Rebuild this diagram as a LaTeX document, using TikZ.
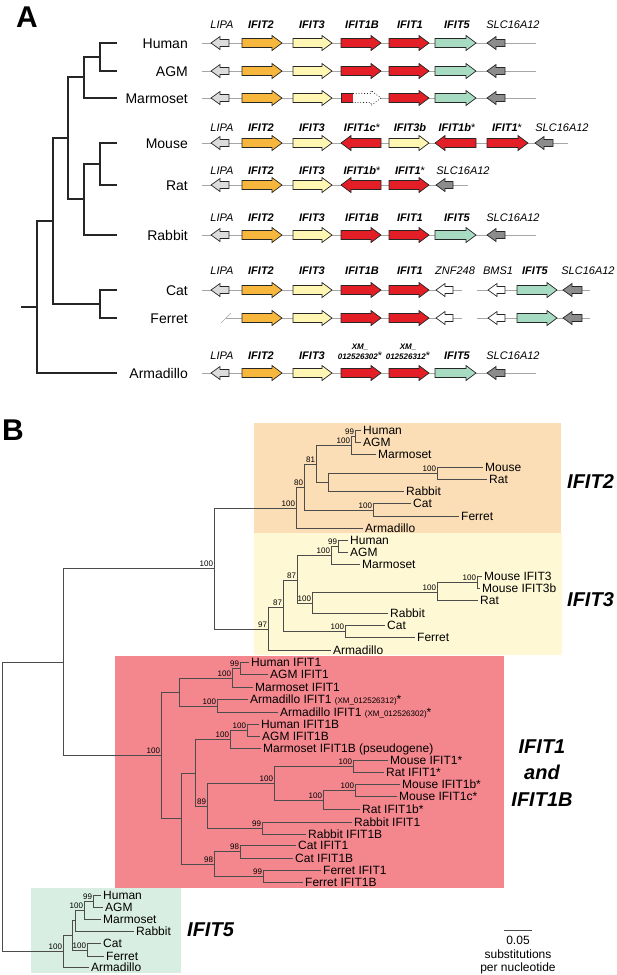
\documentclass[tikz,border=0pt]{standalone}
\usepackage{fontspec}
\setmainfont{Liberation Sans}
\definecolor{lipagray}{HTML}{DCDCDC}
\definecolor{slcgray}{HTML}{8C8C8C}
\definecolor{ifittwo}{HTML}{F7B63C}
\definecolor{ifitthree}{HTML}{FFF6B4}
\definecolor{ifitone}{HTML}{E31E26}
\definecolor{ifitfive}{HTML}{A8DCC2}
\definecolor{boxtwo}{HTML}{FBDDB6}
\definecolor{boxthree}{HTML}{FEF8D4}
\definecolor{boxone}{HTML}{F4878E}
\definecolor{boxfive}{HTML}{D9EEE2}
% gene arrows: style, tail x, tip x, row y
\newcommand{\generight}[4]{\draw[#1] (#2,#4-4.5) -- (#3-10,#4-4.5) -- (#3-10,#4-7.5) -- (#3,#4) -- (#3-10,#4+7.5) -- (#3-10,#4+4.5) -- (#2,#4+4.5) -- cycle;}
% style, tip x, tail x, row y
\newcommand{\geneleft}[4]{\draw[#1] (#3,#4-4.5) -- (#2+10,#4-4.5) -- (#2+10,#4-7.5) -- (#2,#4) -- (#2+10,#4+7.5) -- (#2+10,#4+4.5) -- (#3,#4+4.5) -- cycle;}
\newcommand{\genesmall}[4]{\draw[#1] (#3,#4-3.5) -- (#2+9,#4-3.5) -- (#2+9,#4-6.5) -- (#2,#4) -- (#2+9,#4+6.5) -- (#2+9,#4+3.5) -- (#3,#4+3.5) -- cycle;}
\begin{document}
\begin{tikzpicture}[x=1pt,y=-1pt,
  panel/.style={inner sep=0pt,font=\fontsize{30}{30}\selectfont\bfseries},
  species/.style={anchor=east,inner sep=0pt,text height=10pt,text depth=0pt,font=\fontsize{14}{14}\selectfont},
  atree/.style={draw=black!85,line width=1.1pt},
  backbone/.style={draw=black!35,line width=1pt},
  gname/.style={inner sep=0pt,text height=8pt,text depth=0pt,font=\fontsize{11}{11}\selectfont\itshape},
  gbold/.style={gname,font=\fontsize{11}{11}\selectfont\bfseries\itshape},
  gene/.style={draw=black!85,line width=0.7pt},
  lipa/.style={gene,fill=lipagray},
  slc/.style={gene,fill=slcgray},
  other/.style={gene,fill=white},
  ifit2/.style={gene,fill=ifittwo},
  ifit3/.style={gene,fill=ifitthree},
  ifit1/.style={gene,fill=ifitone},
  ifit5/.style={gene,fill=ifitfive},
  pseudo/.style={draw=black!85,line width=0.8pt,dotted,fill=white},
  btree/.style={draw=black!70,line width=0.7pt},
  leaf/.style={anchor=west,inner ysep=0pt,inner xsep=2pt,text height=8.6pt,text depth=0pt,font=\fontsize{12}{12}\selectfont},
  boot/.style={anchor=south east,inner sep=0.8pt,font=\fontsize{8}{8}\selectfont},
  clade/.style={inner sep=0pt,font=\fontsize{20}{26.5}\selectfont\bfseries\itshape},
  scaletext/.style={inner sep=0pt,font=\fontsize{12}{12}\selectfont}]
\useasboundingbox (0,0) rectangle (617,975);

%%% panel A
\node[panel] (labA) at (27,17) {A};

% species tree
\node[species] (sHuman) at (188,43) {Human};
\node[species] (sAGM) at (188,71) {AGM};
\node[species] (sMarmoset) at (188,98) {Marmoset};
\node[species] (sMouse) at (188,143) {Mouse};
\node[species] (sRat) at (188,185) {Rat};
\node[species] (sRabbit) at (188,235) {Rabbit};
\node[species] (sCat) at (188,290) {Cat};
\node[species] (sFerret) at (188,318) {Ferret};
\node[species] (sArmadillo) at (188,373) {Armadillo};
\coordinate (tHuman) at (117,43);
\coordinate (tAGM) at (117,71);
\coordinate (tMarmoset) at (117,98);
\coordinate (tMouse) at (117,143);
\coordinate (tRat) at (117,185);
\coordinate (tRabbit) at (117,235);
\coordinate (tCat) at (117,290);
\coordinate (tFerret) at (117,318);
\coordinate (tArmadillo) at (117,373);
\coordinate (aHA) at (100,57);
\coordinate (aPri) at (84,77);
\coordinate (aMR) at (100,164);
\coordinate (aGli) at (84,199);
\coordinate (aEua) at (68,138);
\coordinate (aCF) at (100,304);
\coordinate (aBor) at (53,221);
\coordinate (aRoot) at (37,307);
\coordinate (aStub) at (21,307);
\draw[atree]
  (aHA) |- (tHuman)
  (aHA) |- (tAGM)
  (aPri) |- (aHA)
  (aPri) |- (tMarmoset)
  (aMR) |- (tMouse)
  (aMR) |- (tRat)
  (aGli) |- (aMR)
  (aGli) |- (tRabbit)
  (aEua) |- (aPri)
  (aEua) |- (aGli)
  (aCF) |- (tCat)
  (aCF) |- (tFerret)
  (aBor) |- (aEua)
  (aBor) |- (aCF)
  (aRoot) |- (aBor)
  (aRoot) |- (tArmadillo)
  (aStub) -- (aRoot);

% backbones
\foreach \ry in {43,71,98,235,373}
  \draw[backbone] (202,\ry) -- (536,\ry);
\draw[backbone] (202,143) -- (568,143);
\draw[backbone] (202,185) -- (468,185);
\draw[backbone] (202,290) -- (462,290);
\draw[backbone] (477,290) -- (590,290);
\draw[backbone] (226,318) -- (462,318);
\draw[backbone] (477,318) -- (590,318);
\draw[backbone,line width=0.6pt] (221,323) -- (231,313);

% common start of the rows
\foreach \ry in {43,71,98,143,185,235,290,373} {
  \genesmall{lipa}{211}{229}{\ry}
}
\foreach \ry in {43,71,98,143,185,235,290,318,373} {
  \generight{ifit2}{242}{282}{\ry}
  \generight{ifit3}{293}{332}{\ry}
}
% Human, AGM, Rabbit, Armadillo
\foreach \ry in {43,71,235,373} {
  \generight{ifit1}{341}{381}{\ry}
  \generight{ifit1}{389}{429}{\ry}
  \generight{ifit5}{435}{476}{\ry}
  \genesmall{slc}{487}{505}{\ry}
}
% Marmoset
\draw[ifit1] (341,93.5) rectangle (353,102.5);
\draw[pseudo] (353,93.5) -- (371,93.5) -- (371,90.5) -- (381,98) -- (371,105.5) -- (371,102.5) -- (353,102.5);
\generight{ifit1}{389}{429}{98}
\generight{ifit5}{435}{476}{98}
\genesmall{slc}{487}{505}{98}
% Mouse
\geneleft{ifit1}{341}{381}{143}
\generight{ifit3}{389}{429}{143}
\geneleft{ifit1}{435}{476}{143}
\generight{ifit1}{487}{528}{143}
\genesmall{slc}{535}{553}{143}
% Rat
\geneleft{ifit1}{341}{381}{185}
\generight{ifit1}{389}{429}{185}
\genesmall{slc}{436}{453}{185}
% Cat, Ferret
\foreach \ry in {290,318} {
  \generight{ifit1}{341}{381}{\ry}
  \generight{ifit1}{389}{429}{\ry}
  \genesmall{other}{436}{453}{\ry}
  \genesmall{other}{488}{505}{\ry}
  \generight{ifit5}{517}{557}{\ry}
  \genesmall{slc}{563}{582}{\ry}
}

% gene names
\foreach \ly in {24,127,170,217,270,355} {
  \node[gname] at (222,\ly) {LIPA};
  \node[gbold] at (261,\ly) {IFIT2};
  \node[gbold] at (312,\ly) {IFIT3};
}
\foreach \ly in {24,217} {
  \node[gbold] at (362,\ly) {IFIT1B};
  \node[gbold] at (410,\ly) {IFIT1};
  \node[gbold] at (457,\ly) {IFIT5};
  \node[gname] at (513,\ly) {SLC16A12};
}
\node[gbold] at (362,127) {IFIT1c{\upshape\mdseries*}};
\node[gbold] at (410,127) {IFIT3b};
\node[gbold] at (457,127) {IFIT1b{\upshape\mdseries*}};
\node[gbold] at (507,127) {IFIT1{\upshape\mdseries*}};
\node[gname] at (562,127) {SLC16A12};
\node[gbold] at (362,170) {IFIT1b{\upshape\mdseries*}};
\node[gbold] at (410,170) {IFIT1{\upshape\mdseries*}};
\node[gname] at (463,170) {SLC16A12};
\node[gbold] at (362,270) {IFIT1B};
\node[gbold] at (410,270) {IFIT1};
\node[gname] at (455,270) {ZNF248};
\node[gname] at (498,270) {BMS1};
\node[gbold] at (535,270) {IFIT5};
\node[gname] at (588,270) {SLC16A12};
\node[gbold,align=center,text height=,font=\fontsize{8}{10}\selectfont\bfseries\itshape] at (360,352) {XM\_\\012526302{\upshape\mdseries\fontsize{11}{11}\selectfont*}};
\node[gbold,align=center,text height=,font=\fontsize{8}{10}\selectfont\bfseries\itshape] at (408,352) {XM\_\\012526312{\upshape\mdseries\fontsize{11}{11}\selectfont*}};
\node[gbold] at (457,355) {IFIT5};
\node[gname] at (513,355) {SLC16A12};

%%% panel B
\node[panel] (labB) at (13,430) {B};
\fill[boxtwo] (254,423) rectangle (561,533);
\fill[boxthree] (254,533) rectangle (562,655);
\fill[boxone] (115,656) rectangle (504,888);
\fill[boxfive] (31,888) rectangle (181,973);

% IFIT2
\node[leaf] (b2Human) at (361,430) {Human};
\node[leaf] (b2AGM) at (361,442) {AGM};
\node[leaf] (b2Marmoset) at (376,454) {Marmoset};
\node[leaf] (b2Mouse) at (483,467) {Mouse};
\node[leaf] (b2Rat) at (487,479) {Rat};
\node[leaf] (b2Rabbit) at (404,491) {Rabbit};
\node[leaf] (b2Cat) at (411,503) {Cat};
\node[leaf] (b2Ferret) at (459,516) {Ferret};
\node[leaf] (b2Armadillo) at (363,528) {Armadillo};
\coordinate (c2root) at (296,508);
\coordinate (c2a) at (304,487);
\coordinate (c2b) at (316,464);
\coordinate (c2pr) at (351,445);
\coordinate (c2ha) at (355,436);
\coordinate (c2gl) at (328,482);
\coordinate (c2mr) at (437,473);
\coordinate (c2cf) at (373,510);
\draw[btree]
  (c2root) |- (c2a) (c2root) |- (b2Armadillo.west)
  (c2a) |- (c2b) (c2a) |- (c2cf)
  (c2b) |- (c2pr) (c2b) |- (c2gl)
  (c2pr) |- (c2ha) (c2pr) |- (b2Marmoset.west)
  (c2ha) |- (b2Human.west) (c2ha) |- (b2AGM.west)
  (c2gl) |- (c2mr) (c2gl) |- (b2Rabbit.west)
  (c2mr) |- (b2Mouse.west) (c2mr) |- (b2Rat.west)
  (c2cf) |- (b2Cat.west) (c2cf) |- (b2Ferret.west);
\node[boot] at (c2root) {100};
\node[boot] at (c2a) {80};
\node[boot] at (c2b) {81};
\node[boot] at (c2pr) {100};
\node[boot] at (c2ha) {99};
\node[boot] at (c2mr) {100};
\node[boot] at (c2cf) {100};

% IFIT3
\node[leaf] (b3Human) at (348,540) {Human};
\node[leaf] (b3AGM) at (348,552) {AGM};
\node[leaf] (b3Marmoset) at (360,564) {Marmoset};
\node[leaf] (b3MouseA) at (482,576) {Mouse IFIT3};
\node[leaf] (b3MouseB) at (480,588) {Mouse IFIT3b};
\node[leaf] (b3Rat) at (478,600) {Rat};
\node[leaf] (b3Rabbit) at (388,613) {Rabbit};
\node[leaf] (b3Cat) at (385,625) {Cat};
\node[leaf] (b3Ferret) at (415,637) {Ferret};
\node[leaf] (b3Armadillo) at (331,650) {Armadillo};
\coordinate (c3root) at (268,629);
\coordinate (c3a) at (283,607);
\coordinate (c3b) at (297,580);
\coordinate (c3pr) at (331,555);
\coordinate (c3ha) at (338,546);
\coordinate (c3gl) at (312,603);
\coordinate (c3mr) at (437,592);
\coordinate (c3m) at (477,582);
\coordinate (c3cf) at (345,631);
\draw[btree]
  (c3root) |- (c3a) (c3root) |- (b3Armadillo.west)
  (c3a) |- (c3b) (c3a) |- (c3cf)
  (c3b) |- (c3pr) (c3b) |- (c3gl)
  (c3pr) |- (c3ha) (c3pr) |- (b3Marmoset.west)
  (c3ha) |- (b3Human.west) (c3ha) |- (b3AGM.west)
  (c3gl) |- (c3mr) (c3gl) |- (b3Rabbit.west)
  (c3mr) |- (c3m) (c3mr) |- (b3Rat.west)
  (c3m) |- (b3MouseA.west) (c3m) |- (b3MouseB.west)
  (c3cf) |- (b3Cat.west) (c3cf) |- (b3Ferret.west);
\node[boot] at (c3root) {97};
\node[boot] at (c3a) {87};
\node[boot] at (c3b) {87};
\node[boot] at (c3gl) {100};
\node[boot] at (c3pr) {100};
\node[boot] at (c3ha) {99};
\node[boot] at (c3mr) {100};
\node[boot] at (c3m) {100};
\node[boot] at (c3cf) {100};

% IFIT1 and IFIT1B
\node[leaf] (b1HumanA) at (249,662) {Human IFIT1};
\node[leaf] (b1AGMA) at (268,674) {AGM IFIT1};
\node[leaf] (b1MarmA) at (253,687) {Marmoset IFIT1};
\node[leaf] (b1ArmA) at (248,699) {Armadillo IFIT1 {\fontsize{8}{8}\selectfont(XM\_012526312)}*};
\node[leaf] (b1ArmB) at (278,712) {Armadillo IFIT1 {\fontsize{8}{8}\selectfont(XM\_012526302)}*};
\node[leaf] (b1HumanB) at (259,724) {Human IFIT1B};
\node[leaf] (b1AGMB) at (260,736) {AGM IFIT1B};
\node[leaf] (b1MarmB) at (261,748) {Marmoset IFIT1B (pseudogene)};
\node[leaf] (b1MouseA) at (388,760) {Mouse IFIT1*};
\node[leaf] (b1RatA) at (384,772) {Rat IFIT1*};
\node[leaf] (b1MouseB) at (400,784) {Mouse IFIT1b*};
\node[leaf] (b1MouseC) at (397,796) {Mouse IFIT1c*};
\node[leaf] (b1RatB) at (360,809) {Rat IFIT1b*};
\node[leaf] (b1RabbitA) at (352,822) {Rabbit IFIT1};
\node[leaf] (b1RabbitB) at (306,834) {Rabbit IFIT1B};
\node[leaf] (b1CatA) at (296,845) {Cat IFIT1};
\node[leaf] (b1CatB) at (293,858) {Cat IFIT1B};
\node[leaf] (b1FerretA) at (321,870) {Ferret IFIT1};
\node[leaf] (b1FerretB) at (303,882) {Ferret IFIT1B};
\coordinate (c1root) at (161,755);
\coordinate (c1a) at (179,692);
\coordinate (c1h) at (232,678);
\coordinate (c1ha) at (240,668);
\coordinate (c1arm) at (217,706);
\coordinate (c1b) at (181,818);
\coordinate (c1c) at (195,773);
\coordinate (c1d) at (230,739);
\coordinate (c1dha) at (247,730);
\coordinate (c1e) at (207,806);
\coordinate (c1g) at (274,783);
\coordinate (c1mr) at (353,766);
\coordinate (c1bc) at (323,800);
\coordinate (c1mm) at (355,790);
\coordinate (c1rab) at (262,828);
\coordinate (c1cf) at (214,864);
\coordinate (c1cat) at (240,851);
\coordinate (c1fer) at (263,876);
\draw[btree]
  (c1root) |- (c1a) (c1root) |- (c1b)
  (c1a) |- (c1h) (c1a) |- (c1arm)
  (c1h) |- (c1ha) (c1h) |- (b1MarmA.west)
  (c1ha) |- (b1HumanA.west) (c1ha) |- (b1AGMA.west)
  (c1arm) |- (b1ArmA.west) (c1arm) |- (b1ArmB.west)
  (c1b) |- (c1c) (c1b) |- (c1cf)
  (c1c) |- (c1d) (c1c) |- (c1e)
  (c1d) |- (c1dha) (c1d) |- (b1MarmB.west)
  (c1dha) |- (b1HumanB.west) (c1dha) |- (b1AGMB.west)
  (c1e) |- (c1g) (c1e) |- (c1rab)
  (c1g) |- (c1mr) (c1g) |- (c1bc)
  (c1mr) |- (b1MouseA.west) (c1mr) |- (b1RatA.west)
  (c1bc) |- (c1mm) (c1bc) |- (b1RatB.west)
  (c1mm) |- (b1MouseB.west) (c1mm) |- (b1MouseC.west)
  (c1rab) |- (b1RabbitA.west) (c1rab) |- (b1RabbitB.west)
  (c1cf) |- (c1cat) (c1cf) |- (c1fer)
  (c1cat) |- (b1CatA.west) (c1cat) |- (b1CatB.west)
  (c1fer) |- (b1FerretA.west) (c1fer) |- (b1FerretB.west);
\node[boot] at (c1root) {100};
\node[boot] at (c1ha) {99};
\node[boot] at (c1h) {100};
\node[boot] at (c1arm) {100};
\node[boot] at (c1dha) {100};
\node[boot] at (c1d) {100};
\node[boot] at (c1e) {89};
\node[boot] at (c1g) {100};
\node[boot] at (c1mr) {100};
\node[boot] at (c1bc) {100};
\node[boot] at (c1mm) {100};
\node[boot] at (c1rab) {99};
\node[boot] at (c1cf) {98};
\node[boot] at (c1cat) {98};
\node[boot] at (c1fer) {99};

% IFIT5
\node[leaf] (b5Human) at (101,895) {Human};
\node[leaf] (b5AGM) at (103,907) {AGM};
\node[leaf] (b5Marmoset) at (101,919) {Marmoset};
\node[leaf] (b5Rabbit) at (134,931) {Rabbit};
\node[leaf] (b5Cat) at (101,943) {Cat};
\node[leaf] (b5Ferret) at (104,956) {Ferret};
\node[leaf] (b5Armadillo) at (89,967) {Armadillo};
\coordinate (c5root) at (63,951);
\coordinate (c5a) at (72,935);
\coordinate (c5b) at (75,920);
\coordinate (c5pr) at (84,910);
\coordinate (c5ha) at (93,901);
\coordinate (c5cf) at (87,950);
\draw[btree]
  (c5root) |- (c5a) (c5root) |- (b5Armadillo.west)
  (c5a) |- (c5b) (c5a) |- (c5cf)
  (c5b) |- (c5pr) (c5b) |- (b5Rabbit.west)
  (c5pr) |- (c5ha) (c5pr) |- (b5Marmoset.west)
  (c5ha) |- (b5Human.west) (c5ha) |- (b5AGM.west)
  (c5cf) |- (b5Cat.west) (c5cf) |- (b5Ferret.west);
\node[boot] at (c5root) {100};
\node[boot] at (c5pr) {100};
\node[boot] at (c5ha) {99};
\node[boot] at (c5cf) {100};

% deep nodes
\coordinate (bN123) at (214,568);
\coordinate (bN0) at (63,662);
\coordinate (bRoot) at (2,806);
\draw[btree]
  (bN123) |- (c2root) (bN123) |- (c3root)
  (bN0) |- (bN123) (bN0) |- (c1root)
  (bRoot) |- (bN0) (bRoot) |- (c5root);
\node[boot] at (bN123) {100};

% clade names
\node[clade,anchor=west] (cIFIT2) at (567,482) {IFIT2};
\node[clade,anchor=west] (cIFIT3) at (567,600) {IFIT3};
\node[clade,align=center] (cIFIT1) at (542,773) {IFIT1\\and\\IFIT1B};
\node[clade,anchor=west] (cIFIT5) at (187,930) {IFIT5};

% scale bar
\coordinate (sbL) at (504,930);
\coordinate (sbR) at (532,930);
\draw[btree] (sbL) -- (sbR);
\node[scaletext] (sb1) at (518,940) {0.05};
\node[scaletext] (sb2) at (518,954) {substitutions};
\node[scaletext] (sb3) at (518,968) {per nucleotide};
\end{tikzpicture}
\end{document}
